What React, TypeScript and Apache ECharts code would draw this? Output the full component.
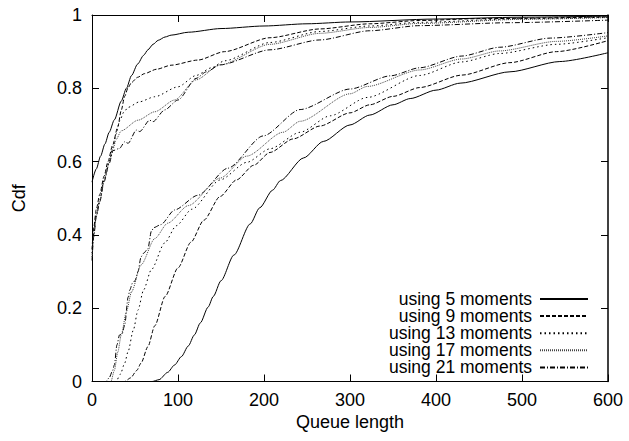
import React, { useEffect, useRef } from "react";
import * as echarts from "echarts";

const legendNames = [
  "using 5 moments",
  "using 9 moments",
  "using 13 moments",
  "using 17 moments",
  "using 21 moments",
];

const xTicks = [0, 100, 200, 300, 400, 500, 600];
const yTicks = [0, 0.2, 0.4, 0.6, 0.8, 1];

// upper curves
const upper5: [number, number][] = [[0,0.544],[5,0.58],[10,0.615],[15,0.648],[20,0.68],[26,0.714],[34,0.765],[40,0.8],[46,0.835],[53,0.866],[60,0.89],[65,0.905],[71,0.92],[77,0.931],[85,0.94],[92,0.945],[112,0.953],[150,0.963],[200,0.97],[250,0.976],[300,0.981],[400,0.989],[500,0.994],[600,0.997]];
const upper9: [number, number][] = [[0,0.36],[2,0.42],[5,0.47],[9,0.51],[14,0.56],[18.6,0.6],[24,0.645],[30,0.695],[34,0.74],[38,0.778],[42,0.802],[46,0.816],[53,0.83],[61,0.84],[75,0.852],[92,0.863],[123,0.877],[154,0.9],[207,0.938],[265,0.962],[323,0.976],[381,0.985],[450,0.99],[600,0.995]];
const upper13: [number, number][] = [[0,0.35],[2,0.405],[5,0.455],[9,0.495],[14,0.55],[20,0.6],[24.5,0.64],[28,0.675],[32,0.71],[37,0.735],[42,0.748],[55,0.763],[73,0.777],[100,0.804],[121,0.835],[139,0.856],[154,0.875],[207,0.925],[265,0.955],[323,0.97],[381,0.98],[500,0.99],[600,0.994]];
const upper17: [number, number][] = [[0,0.34],[2,0.4],[5,0.452],[9,0.492],[14,0.548],[20,0.597],[24.5,0.635],[28,0.66],[34,0.684],[53.5,0.713],[73,0.736],[96,0.768],[121,0.823],[149,0.864],[207,0.92],[265,0.95],[323,0.966],[381,0.977],[500,0.988],[600,0.993]];
const upper21: [number, number][] = [[0,0.33],[2,0.395],[5,0.45],[9,0.49],[14,0.545],[20,0.595],[24.5,0.63],[32,0.636],[38,0.654],[42,0.65],[51.5,0.686],[55.5,0.682],[67,0.713],[71,0.709],[84.5,0.741],[100,0.768],[121,0.827],[133,0.845],[149,0.864],[207,0.905],[265,0.932],[323,0.957],[381,0.971],[486,0.979],[600,0.986]];

// lower curves
const lower5: [number, number][] = [[0,0],[70,0],[78,0.005],[88,0.025],[96,0.045],[104,0.068],[112,0.097],[119,0.127],[126,0.16],[135,0.203],[141,0.232],[150,0.275],[165,0.345],[184,0.43],[195,0.474],[210,0.522],[219,0.548],[246,0.61],[269,0.655],[300,0.7],[323,0.727],[350,0.755],[370,0.772],[400,0.795],[428,0.814],[486,0.845],[544,0.873],[600,0.897]];
const lower9: [number, number][] = [[0,0],[38,0],[45,0.01],[52,0.03],[57,0.05],[65,0.095],[73,0.152],[85,0.232],[100,0.31],[115,0.38],[130,0.44],[149,0.505],[168,0.55],[188,0.59],[207,0.625],[234,0.662],[265,0.697],[300,0.733],[323,0.755],[350,0.778],[381,0.802],[430,0.836],[486,0.87],[540,0.9],[600,0.93]];
const lower13: [number, number][] = [[0,0],[28,0],[33,0.02],[38,0.05],[42,0.082],[48,0.14],[53.5,0.195],[60,0.25],[69,0.305],[84.5,0.378],[98,0.425],[116,0.47],[149,0.55],[180,0.598],[207,0.635],[242,0.68],[277,0.725],[320,0.775],[381,0.835],[430,0.872],[474,0.895],[540,0.92],[600,0.938]];
const lower17: [number, number][] = [[0,0],[22,0],[26,0.03],[30,0.08],[34,0.127],[40,0.19],[46,0.245],[57,0.318],[73,0.39],[88,0.432],[112,0.48],[149,0.555],[180,0.615],[222,0.68],[242,0.71],[300,0.785],[320,0.805],[381,0.85],[430,0.88],[474,0.902],[540,0.928],[600,0.943]];
const lower21: [number, number][] = [[0,0],[16,0],[20,0.01],[24,0.03],[26,0.045],[29,0.1],[32,0.127],[35,0.13],[38,0.154],[42,0.23],[44,0.25],[47,0.268],[50,0.275],[53.5,0.3],[57,0.34],[60,0.35],[65,0.362],[69,0.41],[72,0.42],[80,0.428],[96,0.468],[123,0.508],[158,0.582],[199,0.67],[242,0.742],[300,0.798],[347,0.834],[381,0.856],[430,0.888],[474,0.912],[533,0.937],[600,0.952]];

const upperCurves = [upper5, upper9, upper13, upper17, upper21];
const lowerCurves = [lower5, lower9, lower13, lower17, lower21];

const FONT = "'Liberation Sans', Arial, Helvetica, sans-serif";

const lineStyles: any[] = [
  { color: "#000", width: 1, type: "solid" },
  { color: "#000", width: 1, type: [4, 2] },
  { color: "#000", width: 1, type: [1.5, 3] },
  { color: "#444", width: 1, type: [1, 1] },
  { color: "#000", width: 1, type: [5, 2, 1, 2] },
];

export default function App() {
  const ref = useRef<HTMLDivElement>(null);
  useEffect(() => {
    if (!ref.current) return;
    const chart = echarts.init(ref.current, undefined, { renderer: "svg" });
    const series: any[] = [];
    legendNames.forEach((name, i) => {
      [upperCurves[i], lowerCurves[i]].forEach((data) => {
        series.push({
          type: "line",
          name,
          data,
          xAxisIndex: 0,
          yAxisIndex: 0,
          symbol: "none",
          showSymbol: false,
          smooth: 0.25,
          smoothMonotone: "x",
          lineStyle: lineStyles[i],
          itemStyle: { color: lineStyles[i].color },
          z: 10 - i,
        });
      });
    });
    const axisCommon = {
      axisLine: { show: true, onZero: false, lineStyle: { color: "#000", width: 1 } },
      axisTick: { show: true, inside: true, length: 7, lineStyle: { color: "#000", width: 1 } },
      splitLine: { show: false },
    };
    chart.setOption({
      animation: false,
      backgroundColor: "#fff",
      textStyle: { fontFamily: FONT },
      grid: { left: 92, right: 21, top: 15, bottom: 59.5, containLabel: false },
      xAxis: [
        {
          type: "value",
          min: xTicks[0],
          max: xTicks[xTicks.length - 1],
          interval: xTicks[1] - xTicks[0],
          position: "bottom",
          ...axisCommon,
          axisLabel: { show: true, color: "#000", fontSize: 18, fontFamily: FONT, margin: 9 },
          name: "Queue length",
          nameLocation: "middle",
          nameGap: 30,
          nameTextStyle: { color: "#000", fontSize: 18, fontFamily: FONT },
        },
        {
          type: "value",
          min: xTicks[0],
          max: xTicks[xTicks.length - 1],
          interval: xTicks[1] - xTicks[0],
          position: "top",
          ...axisCommon,
          axisLabel: { show: false },
        },
      ],
      yAxis: [
        {
          type: "value",
          min: yTicks[0],
          max: yTicks[yTicks.length - 1],
          interval: 0.2,
          position: "left",
          ...axisCommon,
          axisLabel: {
            show: true,
            color: "#000",
            fontSize: 18,
            fontFamily: FONT,
            margin: 10,
            formatter: (v: number) => String(Number(v.toFixed(1))),
          },
          name: "Cdf",
          nameLocation: "middle",
          nameGap: 64,
          nameTextStyle: { color: "#000", fontSize: 18, fontFamily: FONT },
        },
        {
          type: "value",
          min: yTicks[0],
          max: yTicks[yTicks.length - 1],
          interval: 0.2,
          position: "right",
          ...axisCommon,
          axisLine: { show: true, onZero: false, lineStyle: { color: "#000", width: 1.5 } },
          axisLabel: { show: false },
        },
      ],
      legend: {
        show: true,
        data: legendNames,
        orient: "vertical",
        align: "right",
        right: 35,
        top: 285,
        padding: 5,
        itemWidth: 48,
        itemHeight: 10,
        itemGap: -0.9,
        selectedMode: false,
        itemStyle: { opacity: 0 },
        backgroundColor: "transparent",
        textStyle: { color: "#000", fontSize: 17.5, fontFamily: FONT, lineHeight: 17.1, padding: [0, 3, 0, 0] },
      },
      series,
    });
    return () => chart.dispose();
  }, []);
  return (
    <div
      ref={ref}
      style={{ position: "fixed", left: 0, top: 0, width: 629, height: 441, background: "#fff" }}
    />
  );
}
